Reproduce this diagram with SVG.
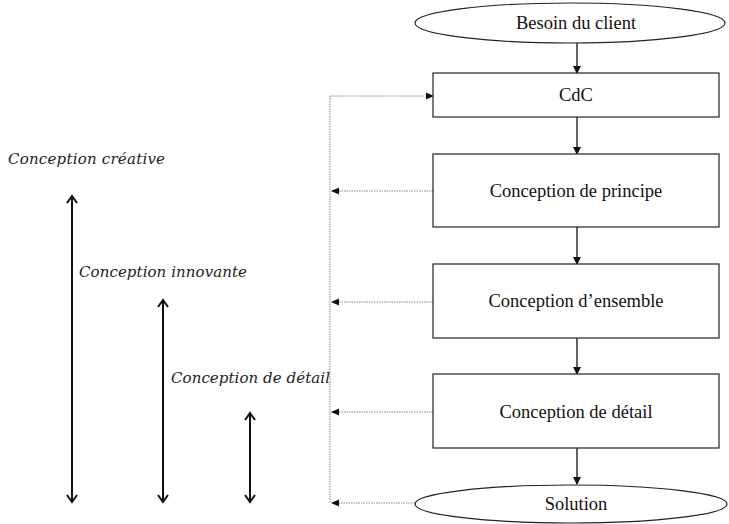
<svg xmlns="http://www.w3.org/2000/svg" width="729" height="524" viewBox="0 0 729 524">
<style>
.box{fill:#fff;stroke:#222;stroke-width:1.2}
.t{font-family:"Liberation Serif",serif;font-size:18.5px;fill:#111;text-anchor:middle}
.it{font-family:"DejaVu Serif",serif;font-style:italic;font-size:15px;fill:#222}
.flow{stroke:#111;stroke-width:1.3;fill:none}
.dot{stroke:#888;stroke-width:1;stroke-dasharray:1.5 1;fill:none}
.dbl{stroke:#111;stroke-width:2;fill:none}
</style>
<defs>
<marker id="ah" markerWidth="8" markerHeight="8" refX="7" refY="4" orient="auto" markerUnits="userSpaceOnUse"><path d="M0,0 L8,4 L0,8 Z" fill="#111"/></marker>
<marker id="ahs" markerWidth="8" markerHeight="8" refX="7" refY="4" orient="auto" markerUnits="userSpaceOnUse"><path d="M0,0.5 L8,4 L0,7.5 Z" fill="#111"/></marker>
<marker id="open" markerWidth="12" markerHeight="12" refX="10" refY="6" orient="auto-start-reverse" markerUnits="userSpaceOnUse"><path d="M3,1 L10,6 L3,11" fill="none" stroke="#111" stroke-width="2"/></marker>
</defs>
<g id="connectors">
<line class="flow" x1="577" y1="43" x2="577" y2="73" marker-end="url(#ah)"/>
<line class="flow" x1="577" y1="117" x2="577" y2="154" marker-end="url(#ah)"/>
<line class="flow" x1="577" y1="227" x2="577" y2="264" marker-end="url(#ah)"/>
<line class="flow" x1="577" y1="338" x2="577" y2="374" marker-end="url(#ah)"/>
<line class="flow" x1="577" y1="448" x2="577" y2="484" marker-end="url(#ah)"/>
<line class="dot" x1="330" y1="96" x2="330" y2="503"/>
<line class="dot" x1="330" y1="96" x2="433" y2="96" marker-end="url(#ahs)"/>
<line class="dot" x1="433" y1="191" x2="332" y2="191" marker-end="url(#ahs)"/>
<line class="dot" x1="433" y1="302" x2="332" y2="302" marker-end="url(#ahs)"/>
<line class="dot" x1="433" y1="412" x2="332" y2="412" marker-end="url(#ahs)"/>
<line class="dot" x1="415" y1="503" x2="332" y2="503" marker-end="url(#ahs)"/>
<line class="dbl" x1="72" y1="196" x2="72" y2="502" marker-start="url(#open)" marker-end="url(#open)"/>
<line class="dbl" x1="163" y1="300" x2="163" y2="502" marker-start="url(#open)" marker-end="url(#open)"/>
<line class="dbl" x1="250" y1="413" x2="250" y2="502" marker-start="url(#open)" marker-end="url(#open)"/>
</g>
<g id="besoin"><ellipse class="box" cx="570" cy="23" rx="155" ry="20"/><text class="t" x="576" y="29">Besoin du client</text></g>
<g id="cdc"><rect class="box" x="433" y="73" width="286" height="44"/><text class="t" x="576" y="101">CdC</text></g>
<g id="principe"><rect class="box" x="433" y="154" width="286" height="73"/><text class="t" x="576" y="197">Conception de principe</text></g>
<g id="ensemble"><rect class="box" x="433" y="264" width="286" height="74"/><text class="t" x="576" y="307">Conception d’ensemble</text></g>
<g id="detail"><rect class="box" x="433" y="374" width="286" height="74"/><text class="t" x="576" y="418">Conception de détail</text></g>
<g id="solution"><ellipse class="box" cx="571" cy="504" rx="156" ry="19"/><text class="t" x="576" y="510">Solution</text></g>
<g id="labels">
<text class="it" x="8" y="164" textLength="157">Conception créative</text>
<text class="it" x="79" y="277" textLength="168">Conception innovante</text>
<text class="it" x="171" y="383" textLength="159">Conception de détail</text>
</g>
</svg>
